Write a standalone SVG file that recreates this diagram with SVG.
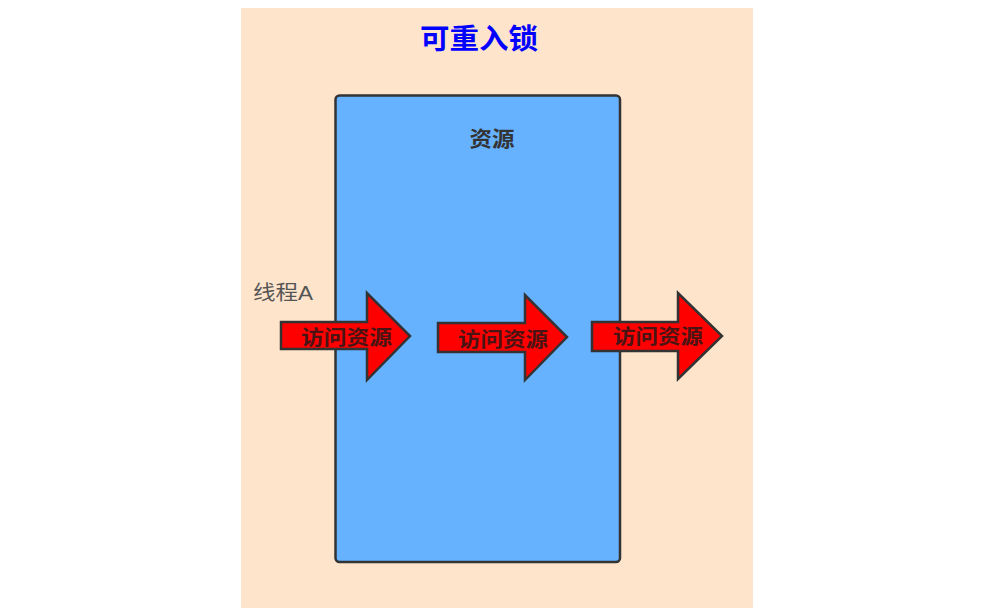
<svg xmlns="http://www.w3.org/2000/svg" width="997" height="614" viewBox="0 0 997 614">
<style>
.cjk{font-family:"Liberation Sans","Noto Sans CJK SC",sans-serif}
.arrow{fill:#ff0000;stroke:#333333;stroke-width:2.5;stroke-linejoin:miter}
.alabel{font-size:20px;font-weight:bold;fill:#4a1414;text-anchor:middle;dominant-baseline:central}
</style>
<rect x="0" y="0" width="997" height="614" fill="#ffffff"/>
<rect x="241" y="8" width="512" height="600" fill="#ffe4cc"/>
<g id="title"><text class="cjk" x="479" y="39" font-size="28" font-weight="bold" fill="#0000ff" text-anchor="middle" dominant-baseline="central" textLength="118" lengthAdjust="spacingAndGlyphs">可重入锁</text></g>
<g id="resource">
<rect x="335.5" y="95.5" width="284.5" height="466.5" rx="4" ry="4" fill="#66b2ff" stroke="#333333" stroke-width="2.5"/>
<text class="cjk" x="492" y="138.5" font-size="21" font-weight="bold" fill="#333333" text-anchor="middle" dominant-baseline="central" textLength="45" lengthAdjust="spacingAndGlyphs">资源</text>
</g>
<g id="threadA"><text class="cjk" x="253" y="293" font-size="20" fill="#555555" dominant-baseline="central" textLength="60" lengthAdjust="spacingAndGlyphs">线程A</text></g>
<g id="connectors">
<g id="arrow1">
<polygon class="arrow" points="281,322 367,322 367,293 410,336 367,380 367,349 281,349"/>
<text class="cjk alabel" x="346.5" y="338" textLength="91" lengthAdjust="spacingAndGlyphs">访问资源</text>
</g>
<g id="arrow2">
<polygon class="arrow" points="438,323 525,323 525,295 567,337 525,380 525,352 438,352"/>
<text class="cjk alabel" x="503" y="340" textLength="90" lengthAdjust="spacingAndGlyphs">访问资源</text>
</g>
<g id="arrow3">
<polygon class="arrow" points="592,322 678,322 678,293 722,336 678,379 678,351 592,351"/>
<text class="cjk alabel" x="658" y="337" textLength="90" lengthAdjust="spacingAndGlyphs">访问资源</text>
</g>
</g>
</svg>
